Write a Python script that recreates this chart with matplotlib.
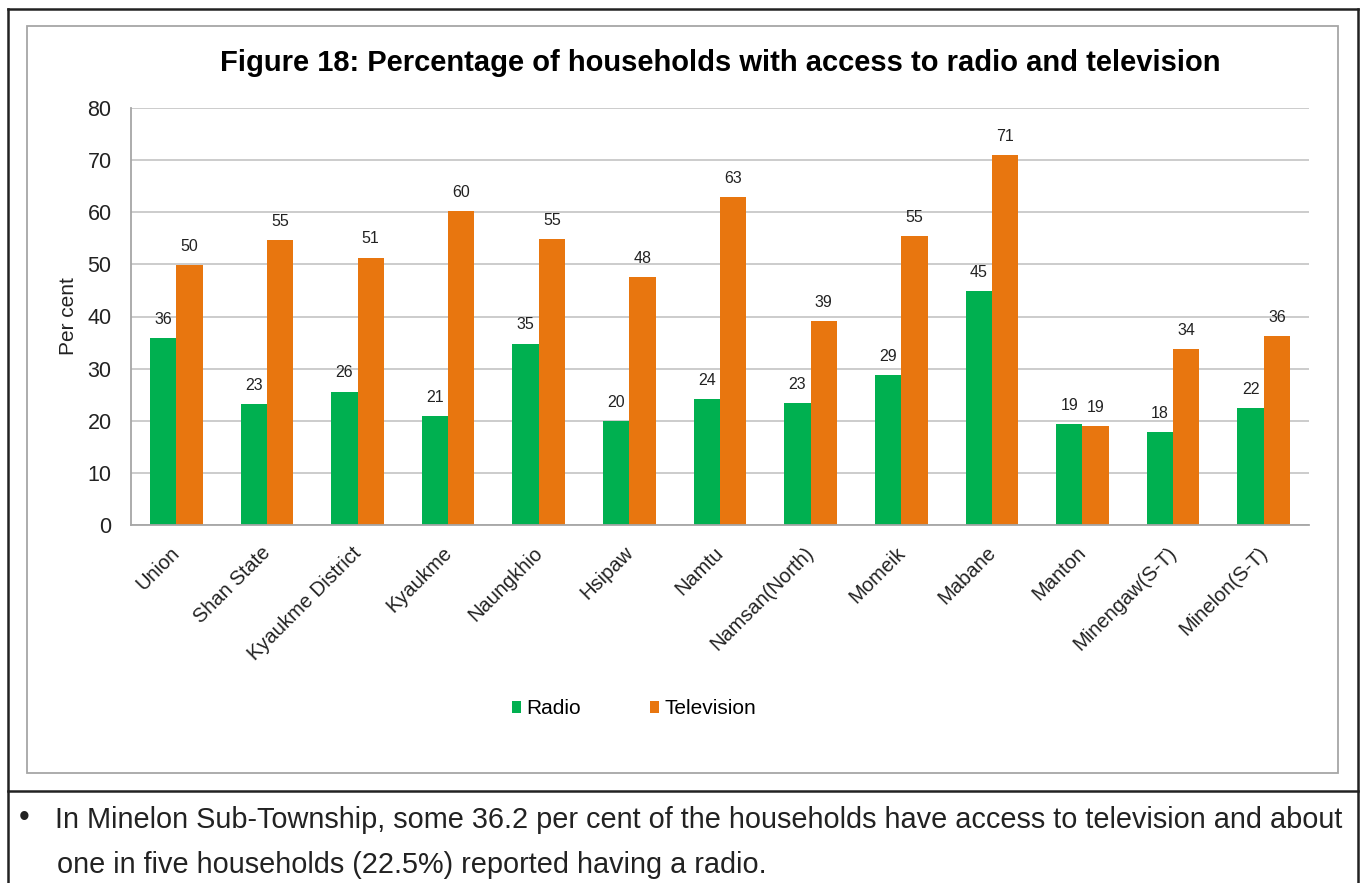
import matplotlib
matplotlib.use("Agg")
import matplotlib.pyplot as plt
import matplotlib.transforms as mtransforms
import numpy as np
from matplotlib.patches import Rectangle
from matplotlib.lines import Line2D

plt.rcParams['font.family'] = ['Liberation Sans', 'DejaVu Sans']

# data
areas = ['Union', 'Shan State', 'Kyaukme District', 'Kyaukme', 'Naungkhio', 'Hsipaw',
         'Namtu', 'Namsan(North)', 'Momeik', 'Mabane', 'Manton', 'Minengaw(S-T)', 'Minelon(S-T)']
radio = [35.9, 23.2, 25.6, 20.9, 34.8, 20.0, 24.1, 23.4, 28.7, 44.9, 19.4, 17.9, 22.5]
television = [49.8, 54.6, 51.3, 60.2, 54.9, 47.5, 62.9, 39.1, 55.4, 71.0, 19.0, 33.7, 36.2]

title = 'Figure 18: Percentage of households with access to radio and television'
note1 = 'In Minelon Sub-Township, some 36.2 per cent of the households have access to television and about'
note2 = 'one in five households (22.5%) reported having a radio.'

green = '#00B050'
orange = '#E8760F'
W, H = 1362, 883

fig = plt.figure(figsize=(13.62, 8.83), dpi=100)
fig.patch.set_facecolor('white')


def fx(px):
    return px / W


def fy(py):
    return 1 - py / H


# outer table border and separator
fig.add_artist(Line2D([fx(8), fx(8)], [fy(9), 0], color='#222222', lw=1.8))
fig.add_artist(Line2D([fx(1358), fx(1358)], [fy(9), 0], color='#222222', lw=1.8))
fig.add_artist(Line2D([fx(8), fx(1358)], [fy(9), fy(9)], color='#222222', lw=1.8))
fig.add_artist(Line2D([fx(8), fx(1358)], [fy(791), fy(791)], color='#222222', lw=1.8))

# chart frame
fig.add_artist(Rectangle((fx(27), fy(773)), fx(1338) - fx(27), fy(26) - fy(773),
                         fill=False, edgecolor='#A6A6A6', lw=1.3))

ax = fig.add_axes([fx(131), fy(525), fx(1309) - fx(131), fy(108) - fy(525)])
x = np.arange(len(areas))
w = 0.29
b1 = ax.bar(x - w / 2, radio, w, color=green, label='Radio')
b2 = ax.bar(x + w / 2, television, w, color=orange, label='Television')

for bars, vals in ((b1, radio), (b2, television)):
    for bar, v in zip(bars, vals):
        ax.annotate(f'{v:.0f}', (bar.get_x() + bar.get_width() / 2, v),
                    xytext=(0, 8), textcoords='offset points',
                    ha='center', va='bottom', fontsize=11.5, color='#222222')

ax.set_xlim(-0.5, len(areas) - 0.5)
ax.set_ylim(0, 80)
ax.set_yticks(range(0, 81, 10))
ax.yaxis.grid(True, color='#C8C8C8', lw=1.3)
ax.set_axisbelow(True)
for s in ('top', 'right'):
    ax.spines[s].set_visible(False)
ax.spines['left'].set_color('#A6A6A6')
ax.spines['bottom'].set_color('#A6A6A6')
ax.spines['left'].set_linewidth(1.3)
ax.spines['bottom'].set_linewidth(1.3)
ax.tick_params(axis='both', length=0, colors='#222222')
ax.tick_params(axis='y', pad=14, labelsize=15.5)
ax.set_xticks(x)
ax.set_xticklabels(areas, rotation=45, ha='right', va='top', rotation_mode='anchor')
ax.tick_params(axis='x', pad=13, labelsize=14.5)
shift = mtransforms.ScaledTranslation(-6 / 100, 0, fig.dpi_scale_trans)
for lbl in ax.get_xticklabels():
    lbl.set_transform(lbl.get_transform() + shift)
ax.set_ylabel('Per cent', fontsize=15, color='#222222', labelpad=7)

fig.text(fx(720), fy(63), title, ha='center', va='center', fontsize=21, fontweight='bold')

fig.legend(handles=[b1, b2], loc='center', bbox_to_anchor=(fx(634), fy(709)), ncol=2,
           frameon=False, fontsize=15, handlelength=0.45, handleheight=0.45,
           handletextpad=0.25, columnspacing=3.3)

fig.text(fx(24), fy(818), '•', ha='center', va='center', fontsize=22, color='#222222')
fig.text(fx(55), fy(820), note1, ha='left', va='center', fontsize=20.8, color='#222222')
fig.text(fx(57), fy(865), note2, ha='left', va='center', fontsize=20.8, color='#222222')

fig.savefig('out.png', dpi=100, facecolor='white')
